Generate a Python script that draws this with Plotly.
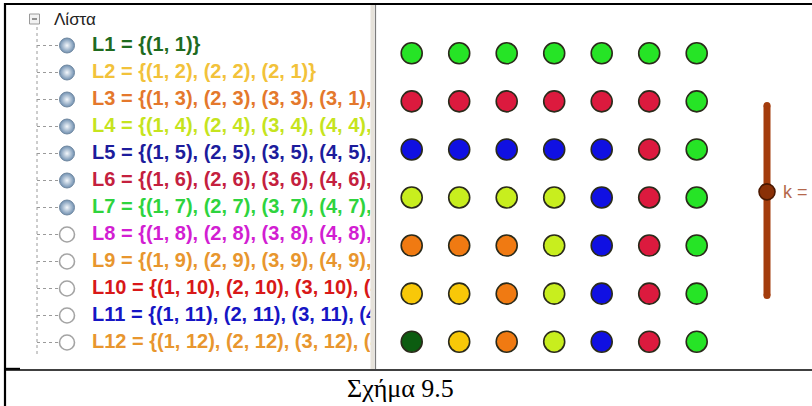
import plotly.graph_objects as go

# ---------------- data ----------------
list_names = ["L1", "L2", "L3", "L4", "L5", "L6", "L7", "L8", "L9", "L10", "L11", "L12"]
list_labels = [
    "L1 = {(1, 1)}",
    "L2 = {(1, 2), (2, 2), (2, 1)}",
    "L3 = {(1, 3), (2, 3), (3, 3), (3, 1), (3, 2)}",
    "L4 = {(1, 4), (2, 4), (3, 4), (4, 4), (4, 1), (4, 2), (4, 3)}",
    "L5 = {(1, 5), (2, 5), (3, 5), (4, 5), (5, 5), (5, 1), (5, 2)}",
    "L6 = {(1, 6), (2, 6), (3, 6), (4, 6), (5, 6), (6, 6), (6, 1)}",
    "L7 = {(1, 7), (2, 7), (3, 7), (4, 7), (5, 7), (6, 7), (7, 7)}",
    "L8 = {(1, 8), (2, 8), (3, 8), (4, 8), (5, 8), (6, 8), (7, 8)}",
    "L9 = {(1, 9), (2, 9), (3, 9), (4, 9), (5, 9), (6, 9), (7, 9)}",
    "L10 = {(1, 10), (2, 10), (3, 10), (4, 10), (5, 10)}",
    "L11 = {(1, 11), (2, 11), (3, 11), (4, 11), (5, 11)}",
    "L12 = {(1, 12), (2, 12), (3, 12), (4, 12), (5, 12)}",
]
list_visible = [True, True, True, True, True, True, True, False, False, False, False, False]
list_text_colors = ["#1f6b1f", "#f2c23a", "#e4782c", "#c6e41e", "#1c1c9c", "#c4203e",
                    "#2ed43e", "#d21ed2", "#e8962e", "#d81818", "#1616c4", "#e8962e"]

# points of the lists drawn in the graphics view (k = 7)
L1 = [(1, 1)]
L2 = [(1, 2), (2, 2), (2, 1)]
L3 = [(1, 3), (2, 3), (3, 3), (3, 1), (3, 2)]
L4 = [(1, 4), (2, 4), (3, 4), (4, 4), (4, 1), (4, 2), (4, 3)]
L5 = [(1, 5), (2, 5), (3, 5), (4, 5), (5, 5), (5, 1), (5, 2), (5, 3), (5, 4)]
L6 = [(1, 6), (2, 6), (3, 6), (4, 6), (5, 6), (6, 6), (6, 1), (6, 2), (6, 3), (6, 4), (6, 5)]
L7 = [(1, 7), (2, 7), (3, 7), (4, 7), (5, 7), (6, 7), (7, 7), (7, 1), (7, 2), (7, 3), (7, 4), (7, 5), (7, 6)]
point_lists = [L1, L2, L3, L4, L5, L6, L7]
dot_colors = ["#0c5c10", "#f8c808", "#f07a12", "#c8ee1e", "#1010e2", "#dc1a3e", "#26e426"]

slider_min, slider_max, k_value = 1, 12, 7
slider_label = "k ="
caption = "Σχήμα 9.5"

# ---------------- figure ----------------
W, H = 812, 406
fig = go.Figure()

SANS = "Liberation Sans, Arial, sans-serif"

# dot grid (subplot x2/y2)
for name, pts, col in zip(list_names, point_lists, dot_colors):
    fig.add_trace(go.Scatter(
        x=[p[0] for p in pts], y=[p[1] for p in pts], mode="markers", name=name,
        xaxis="x2", yaxis="y2", cliponaxis=False,
        marker=dict(size=21, color=col, line=dict(color="#2a2a1a", width=1.6)),
        hoverinfo="skip", showlegend=False))

# list panel (subplot x3/y3): icons and labels
idx = list(range(1, len(list_names) + 1))
fig.add_trace(go.Scatter(
    x=[67] * len(idx), y=idx, mode="markers", xaxis="x3", yaxis="y3",
    marker=dict(size=15,
                color=["#6f8fb0" if v else "white" for v in list_visible],
                gradient=dict(type=["radial" if v else "none" for v in list_visible],
                              color="#f4f8fc"),
                line=dict(color=["#7088a0" if v else "#a4a4a4" for v in list_visible],
                          width=[1 if v else 1.6 for v in list_visible])),
    hoverinfo="skip", showlegend=False))
fig.add_trace(go.Scatter(
    x=[92] * len(idx), y=idx, mode="text", text=list_labels, xaxis="x3", yaxis="y3",
    textposition="middle right", cliponaxis=True,
    textfont=dict(family=SANS, size=20, color=list_text_colors, weight="bold"),
    hoverinfo="skip", showlegend=False))

# slider (x pixel axis / y4)
fig.add_trace(go.Scatter(
    x=[767, 767], y=[slider_min, slider_max], mode="lines+markers", xaxis="x", yaxis="y4",
    line=dict(color="#a33c0c", width=7), marker=dict(size=7, color="#a33c0c"),
    cliponaxis=False, hoverinfo="skip", showlegend=False))
fig.add_trace(go.Scatter(
    x=[767], y=[k_value], mode="markers", xaxis="x", yaxis="y4",
    marker=dict(size=16, color="#8a3006", line=dict(color="#4a1800", width=1.6)),
    cliponaxis=False, hoverinfo="skip", showlegend=False))

# ---------------- decorations (pixel axis x/y) ----------------
shapes = []
def line(x0, y0, x1, y1, color="black", width=2, dash="solid", yref="y"):
    shapes.append(dict(type="line", xref="x", yref=yref, x0=x0, y0=y0, x1=x1, y1=y1,
                       line=dict(color=color, width=width, dash=dash)))

# splitter between panels
shapes.append(dict(type="rect", xref="x", yref="y", x0=370.5, x1=374.5, y0=5, y1=369,
                   fillcolor="#e6e2da", line=dict(width=0)))
line(375.5, 5, 375.5, 369, color="#7c7c7c", width=1.2)

# outer frame
line(5, 4, W, 4, width=2)
line(5, 3, 5, H, width=2.2)
line(5, 370, W, 370, width=1.6)
line(5, 368.8, 20, 368.8, width=2)

# tree lines
line(37, 27, 37, 356, color="#9a9a9a", width=1, dash="dot")
for i in idx:
    line(37, i, 58, i, color="#9a9a9a", width=1, dash="dot", yref="y3")
# collapse box
shapes.append(dict(type="rect", xref="x", yref="y", x0=29.5, x1=39.5, y0=14, y1=24,
                   fillcolor="#f2f2f2", line=dict(color="#9a9a9a", width=1)))
line(32, 19, 37, 19, color="#505050", width=1.2)

annotations = [
    dict(x=52, y=19, xref="x", yref="y", text="Λίστα", showarrow=False, xanchor="left",
         yanchor="middle", font=dict(family=SANS, size=17, color="#222222")),
    dict(x=781, y=k_value, xref="x", yref="y4", text=slider_label, showarrow=False,
         xanchor="left", yanchor="middle", font=dict(family=SANS, size=18, color="#b4684c")),
    dict(x=400, y=388, xref="x", yref="y", text=caption, showarrow=False, xanchor="center",
         yanchor="middle", font=dict(family="Liberation Serif, Times New Roman, serif",
                                     size=26, color="black")),
]

hidden = dict(visible=False, showgrid=False, zeroline=False, fixedrange=True)
fig.update_layout(
    width=W, height=H, margin=dict(l=0, r=0, t=0, b=0),
    paper_bgcolor="white", plot_bgcolor="rgba(0,0,0,0)",
    xaxis=dict(range=[0, W], domain=[0, 1], **hidden),
    yaxis=dict(range=[H, 0], domain=[0, 1], **hidden),
    xaxis2=dict(range=[0.5, 7.5], domain=[0.47777, 0.88725], anchor="y2", **hidden),
    yaxis2=dict(range=[0.5, 7.5], domain=[0.09919, 0.92791], anchor="x2", **hidden),
    xaxis3=dict(range=[0, 370.5], domain=[0, 370.5 / W], anchor="y3", **hidden),
    yaxis3=dict(range=[12.5, 0.5], domain=[0.12315, 0.92118], anchor="x3", **hidden),
    yaxis4=dict(range=[0.5, 12.5], domain=[0.25089, 0.76143], anchor="x", **hidden),
    shapes=shapes, annotations=annotations, showlegend=False,
)

fig.write_html("out.html", config={"displayModeBar": False},
               post_script="document.body.style.margin='0px';document.body.style.overflow='hidden';")
